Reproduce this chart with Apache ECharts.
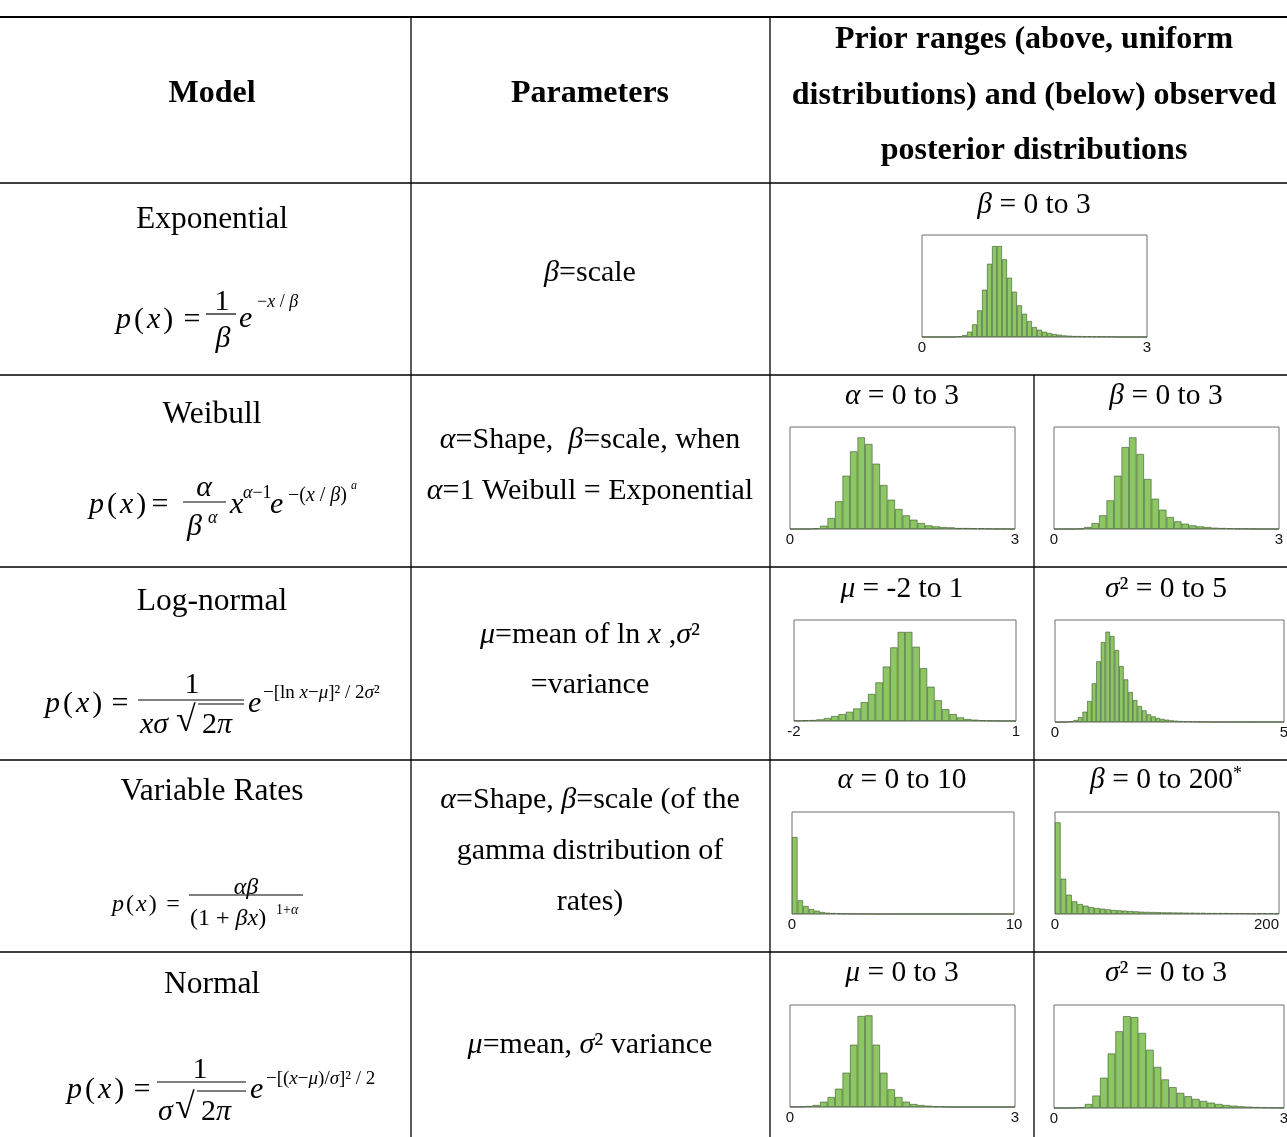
<!DOCTYPE html>
<html>
<head>
<meta charset="utf-8">
<script src="https://cdn.jsdelivr.net/npm/echarts@6/dist/echarts.min.js"></script>
<style>
  html, body { margin: 0; background: #fff; }
  #chart { width: 1287px; height: 1137px; }
</style>
</head>
<body>
<div id="chart"></div>
<script>
// table text
const headers = ['Model', 'Parameters'];
const header3 = ['Prior ranges (above, uniform', 'distributions) and (below) observed', 'posterior distributions'];
const models = ['Exponential', 'Weibull', 'Log-normal', 'Variable Rates', 'Normal'];
const params = [
  ['{i|β}=scale'],
  ['{i|α}=Shape,  {i|β}=scale, when', '{i|α}=1 Weibull = Exponential'],
  ['{i|μ}=mean of ln {i|x} ,{i|σ}²', '=variance'],
  ['{i|α}=Shape, {i|β}=scale (of the', 'gamma distribution of', 'rates)'],
  ['{i|μ}=mean, {i|σ}² variance']
];
const priorLabels = [
  '{i|β} = 0 to 3',
  '{i|α} = 0 to 3', '{i|β} = 0 to 3',
  '{i|μ} = -2 to 1', '{i|σ}² = 0 to 5',
  '{i|α} = 0 to 10', '{i|β} = 0 to 200{s|*}',
  '{i|μ} = 0 to 3', '{i|σ}² = 0 to 3'
];
// axis end labels of each histogram
const axisMin = [0, 0, 0, -2, 0, 0, 0, 0, 0];
const axisMax = [3, 3, 3, 1, 5, 10, 200, 3, 3];

// posterior histograms (bar heights, arbitrary units)
const expBeta = [0, 0, 0, 0, 0, 0, 0, 2, 6, 16, 38, 80, 142, 220, 273, 273, 233, 178, 136, 95, 70, 48, 30, 22, 16, 12, 9, 7, 5, 4, 3, 3, 2, 2, 1.5, 1.5, 1, 1, 0.5, 0, 0, 0, 0, 0, 0];
const weibullAlpha = [0, 0, 0, 2, 10, 33, 83, 160, 233, 275, 255, 196, 132, 88, 60, 41, 28, 18, 11, 8, 6, 5, 3, 3, 2, 2, 1, 0.5, 0.5, 0];
const weibullBeta = [0, 0, 0, 1, 6, 18, 41, 86, 160, 246, 275, 225, 150, 91, 58, 36, 23, 16, 11, 8, 6, 4, 3, 2, 1, 1, 0.5, 0, 0, 0];
const lognormMu = [1, 2, 3, 5, 9, 15, 21, 28, 38, 57, 82, 117, 165, 223, 270, 270, 225, 160, 104, 63, 36, 21, 11, 6, 4, 2, 1, 0.5, 0, 0];
const lognormSigma2 = [0, 0, 0, 2, 6, 15, 31, 63, 116, 182, 240, 271, 258, 216, 168, 128, 90, 66, 48, 35, 23, 17, 12, 9, 7, 5, 4, 3, 2, 2, 1, 1, 0.5, 0.5, 0, 0, 0, 0, 0, 0, 0, 0, 0, 0, 0, 0, 0, 0, 0, 0];
const varAlpha = [231, 41, 24, 15, 10, 6, 4, 3, 2, 1.5, 1, 1, 0.5, 0.5, 0.5, 0, 0, 0, 0, 0, 0, 0, 0, 0, 0, 0, 0, 0, 0, 0, 0, 0, 0, 0, 0, 0, 0, 0, 0, 0];
const varBeta = [275, 106, 58, 38, 30, 25, 21, 18, 16, 14, 12, 11, 10, 9, 8, 7, 6.5, 6, 5.5, 5, 5, 4.5, 4.5, 4, 4, 3.5, 3.5, 3, 3, 3, 3, 2.5, 2.5, 2.5, 2, 2, 2, 2, 2, 1.5];
const normMu = [0.5, 1, 3, 6, 16, 30, 55, 103, 187, 273, 275, 187, 103, 53, 30, 16, 9, 6, 4, 2, 1, 0, 0, 0, 0, 0, 0, 0, 0, 0];
const normSigma2 = [0, 0, 0.5, 2, 12, 37, 90, 162, 228, 273, 270, 223, 173, 122, 85, 62, 45, 35, 27, 21, 16, 12, 9, 7, 5, 4, 3, 2, 1, 0.5];

const histData = [expBeta, weibullAlpha, weibullBeta, lognormMu, lognormSigma2, varAlpha, varBeta, normMu, normSigma2];

// layout (px)
const boxes = [
  [922, 235, 225, 102],
  [790, 427, 225, 102],
  [1054, 427, 225, 102],
  [794, 620, 222, 101],
  [1055, 620, 229, 102],
  [792, 812, 222, 102],
  [1055, 812, 224, 102],
  [790, 1005, 225, 102],
  [1054, 1005, 230, 103]
];
const priorPos = [[1034, 203], [902, 394], [1166, 394], [902, 587], [1166, 587], [902, 778], [1166, 778], [902, 971], [1166, 971]];
const rowLines = [183, 375, 567, 760, 952];
const modelY = [218, 413, 600, 790, 983];
const paramY = [[271], [438, 489], [633, 683], [798, 849, 900], [1043]];

const SERIF = '"Liberation Serif", "Times New Roman", serif';
const SANS = '"Liberation Sans", Arial, sans-serif';
const W = 1287;
const DY = 2; // glyph centre correction for 'middle'

const txt = (x, y, text, size, opts = {}) => {
  const it = (pad) => ({ fontSize: size, fontFamily: SERIF, fontStyle: 'italic', fill: '#000', padding: pad });
  return {
    type: 'text', x: x, y: y + DY, silent: true,
    style: {
      text: text, fill: '#000',
      fontSize: size, fontFamily: SERIF,
      fontWeight: opts.bold ? 'bold' : 'normal',
      align: opts.align || 'center', verticalAlign: 'middle',
      rich: {
        i: it([0, 0, 0, 0]),
        p: it([0, Math.round(size * 0.1), 0, 0]),
        x: it([0, Math.round(size * 0.1), 0, Math.round(size * 0.1)]),
        s: { fontSize: Math.round(size * 0.6), fontFamily: SERIF, fill: '#000', verticalAlign: 'top' }
      }
    }
  };
};

const line = (x1, y1, x2, y2, w) => ({
  type: 'line', silent: true,
  shape: { x1: x1, y1: y1, x2: x2, y2: y2 },
  style: { stroke: '#000', lineWidth: w || 1.3 }
});

const graphics = [];
// table grid
graphics.push(line(0, 17, W, 17, 2));
rowLines.forEach(y => graphics.push(line(0, y, W, y, 1.3)));
graphics.push(line(411, 17, 411, 1137, 1.3));
graphics.push(line(770, 17, 770, 1137, 1.3));
graphics.push(line(1034, 375, 1034, 1137, 1.3));

// header
graphics.push(txt(212, 92, headers[0], 32, { bold: true }));
graphics.push(txt(590, 92, headers[1], 32, { bold: true }));
header3.forEach((s, i) => graphics.push(txt(1034, 38 + i * 55.5, s, 32, { bold: true })));

// model names, parameters, prior ranges
models.forEach((m, i) => graphics.push(txt(212, modelY[i], m, 31.5)));
params.forEach((rows, i) => rows.forEach((s, j) => graphics.push(txt(590, paramY[i][j], s, 30))));
priorLabels.forEach((s, i) => graphics.push(txt(priorPos[i][0], priorPos[i][1], s, 29.5)));

// formulas
const L = { align: 'left' };
const px = '{p|p}({x|x})';
// exponential
graphics.push(txt(116, 318, px, 30, L), txt(192, 318, '=', 30));
graphics.push(txt(222, 300, '1', 30), line(206, 314, 236, 314, 1.2), txt(223, 337, '{i|β}', 30));
graphics.push(txt(239, 317, '{i|e}', 30, L), txt(257, 300, '−{i|x} / {i|β}', 18, L));
// weibull
graphics.push(txt(89, 503, px, 30, L), txt(160, 503, '=', 30));
graphics.push(txt(204, 486, '{i|α}', 30), line(183, 502, 226, 502, 1.2));
graphics.push(txt(187, 525, '{i|β}', 30, L), txt(208, 516, '{i|α}', 18, L));
graphics.push(txt(230, 503, '{i|x}', 30, L), txt(243, 491, '{i|α}−1', 18, L));
graphics.push(txt(270, 503, '{i|e}', 30, L), txt(288, 494, '−({i|x} / {i|β})', 20, L), txt(351, 484, '{i|a}', 12, L));
// log-normal
graphics.push(txt(45, 702, px, 30, L), txt(120, 702, '=', 30));
graphics.push(txt(192, 683, '1', 30), line(138, 700, 244, 700, 1.2));
graphics.push(txt(140, 723, '{i|xσ}', 30, L), txt(176, 720, '√', 36, L), line(198, 704, 244, 704, 1.1), txt(202, 723, '2{i|π}', 30, L));
graphics.push(txt(248, 702, '{i|e}', 30, L), txt(263, 691, '−[ln {i|x}−{i|μ}]² / 2{i|σ}²', 19, L));
// variable rates
graphics.push(txt(112, 903, px, 24, L), txt(173, 903, '=', 24));
graphics.push(txt(246, 886, '{i|αβ}', 24), line(189, 895, 303, 895, 1.1));
graphics.push(txt(190, 917, '(1 + {i|βx})', 24, L), txt(276, 908, '1+{i|α}', 14, L));
// normal
graphics.push(txt(67, 1088, px, 30, L), txt(142, 1088, '=', 30));
graphics.push(txt(200, 1068, '1', 30), line(157, 1082, 246, 1082, 1.2));
graphics.push(txt(158, 1110, '{i|σ}', 30, L), txt(175, 1107, '√', 36, L), line(197, 1091, 246, 1091, 1.1), txt(201, 1110, '2{i|π}', 30, L));
graphics.push(txt(250, 1088, '{i|e}', 30, L), txt(266, 1077, '−[({i|x}−{i|μ})/{i|σ}]² / 2', 19, L));

// histograms
const grids = [], xAxes = [], yAxes = [], series = [];
histData.forEach((vals, i) => {
  const b = boxes[i];
  grids.push({
    left: b[0], top: b[1], width: b[2], height: b[3],
    show: true, borderColor: '#6f6f6f', borderWidth: 1, backgroundColor: '#fff',
    outerBoundsMode: 'none'
  });
  xAxes.push({
    type: 'category', gridIndex: i, show: false,
    data: vals.map((v, k) => k)
  });
  xAxes.push({
    type: 'value', gridIndex: i, position: 'bottom',
    min: axisMin[i], max: axisMax[i],
    axisLine: { show: false }, axisTick: { show: false }, splitLine: { show: false },
    axisLabel: {
      customValues: [axisMin[i], axisMax[i]],
      fontSize: 15, fontFamily: SANS, color: '#111', margin: 3,
      alignMaxLabel: String(axisMax[i]).length > 2 ? 'right' : 'center'
    }
  });
  yAxes.push({ type: 'value', gridIndex: i, min: 0, max: 306, show: false });
  series.push({
    type: 'bar', xAxisIndex: i * 2, yAxisIndex: i, data: vals,
    barCategoryGap: '0%', silent: true,
    itemStyle: { color: '#8cc763', borderColor: 'rgba(55,85,40,0.85)', borderWidth: 0.7 }
  });
});

const chart = echarts.init(document.getElementById('chart'), null, { renderer: 'canvas' });
chart.setOption({
  backgroundColor: '#fff',
  animation: false,
  grid: grids,
  xAxis: xAxes,
  yAxis: yAxes,
  series: series,
  graphic: { elements: graphics }
});
</script>
</body>
</html>
